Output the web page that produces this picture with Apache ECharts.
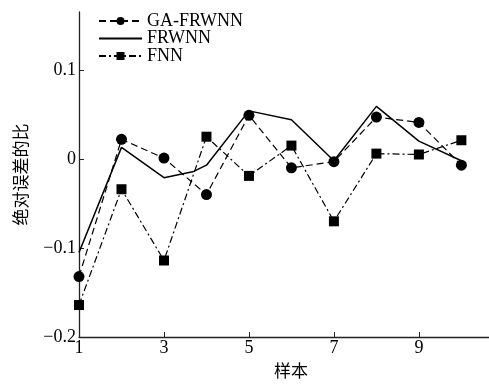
<!DOCTYPE html>
<html>
<head>
<meta charset="utf-8">
<script src="https://cdn.jsdelivr.net/npm/echarts@6/dist/echarts.min.js"></script>
<style>html,body{margin:0;padding:0;background:#fff}#c{width:489px;height:384px}</style>
</head>
<body>
<div id="c"></div>
<script>
const samples = [1,2,3,4,5,6,7,8,9,10];
const gaFrwnn = [-0.132,0.022,0.001,-0.040,0.049,-0.010,-0.003,0.047,0.041,-0.007];
const frwnnX = [1,2,3,3.7,4,5,6,7,8,9,10];
const frwnn = [-0.105,0.013,-0.021,-0.014,-0.007,0.054,0.044,-0.002,0.059,0.020,-0.002];
const fnn = [-0.164,-0.034,-0.114,0.025,-0.019,0.015,-0.070,0.006,0.005,0.021];
const seriesNames = ['GA-FRWNN','FRWNN','FNN'];
const axisNames = {x:'样本', y:'绝对误差的比'};

const pair = (xs, ys) => xs.map((x,i)=>[x, ys[i]]);
const serif = 'Liberation Serif';
const cjk = 'Noto Sans CJK SC';
const chart = echarts.init(document.getElementById('c'), null, {renderer:'canvas'});
chart.setOption({
  animation:false,
  backgroundColor:'#fff',
  grid:{left:79,right:0,top:12,bottom:43,containLabel:false},
  legend:{
    orient:'vertical', left:98, top:12, padding:0, itemWidth:43, itemHeight:10, itemGap:-0.5,
    textStyle:{fontFamily:serif,fontSize:18,color:'#000'},
    data:[
      {name:seriesNames[0]},
      {name:seriesNames[1], itemStyle:{opacity:0}},
      {name:seriesNames[2]}
    ]
  },
  xAxis:{
    type:'value', min:1, max:10.65, interval:2,
    name:axisNames.x, nameLocation:'middle', nameGap:21,
    nameTextStyle:{fontFamily:cjk,fontSize:17,color:'#000',padding:[0,0,0,14]},
    axisLine:{onZero:false,lineStyle:{color:'#222',width:1.3}},
    axisTick:{inside:true,length:5,lineStyle:{color:'#222'}},
    axisLabel:{fontFamily:serif,fontSize:18,color:'#000',margin:2,showMaxLabel:false},
    splitLine:{show:false}
  },
  yAxis:{
    type:'value', min:-0.2, max:0.165, interval:0.1,
    name:axisNames.y, nameLocation:'middle', nameGap:50,
    nameTextStyle:{fontFamily:cjk,fontSize:17,color:'#000'},
    axisLine:{show:true,onZero:false,lineStyle:{color:'#222',width:1.3}},
    axisTick:{show:true,inside:true,length:5,lineStyle:{color:'#222'}},
    axisLabel:{fontFamily:serif,fontSize:18,color:'#000',margin:3,showMaxLabel:false,
      formatter:v=>{const r=Math.round(v*10)/10; return (r===0?'0':String(r)).replace('-','\u2212');}},
    splitLine:{show:false}
  },
  series:[
    {name:seriesNames[0],type:'line',data:pair(samples,gaFrwnn),symbol:'circle',symbolSize:11,clip:false,
      lineStyle:{color:'#000',width:1.2,type:[7,4]},itemStyle:{color:'#000'}},
    {name:seriesNames[1],type:'line',data:pair(frwnnX,frwnn),symbol:'none',showSymbol:false,clip:false,
      lineStyle:{color:'#000',width:1.5,type:'solid'},itemStyle:{color:'#000'}},
    {name:seriesNames[2],type:'line',data:pair(samples,fnn),symbol:'rect',symbolSize:10,clip:false,
      lineStyle:{color:'#000',width:1.2,type:[7,3,2,3]},itemStyle:{color:'#000'}}
  ]
});
</script>
</body>
</html>
